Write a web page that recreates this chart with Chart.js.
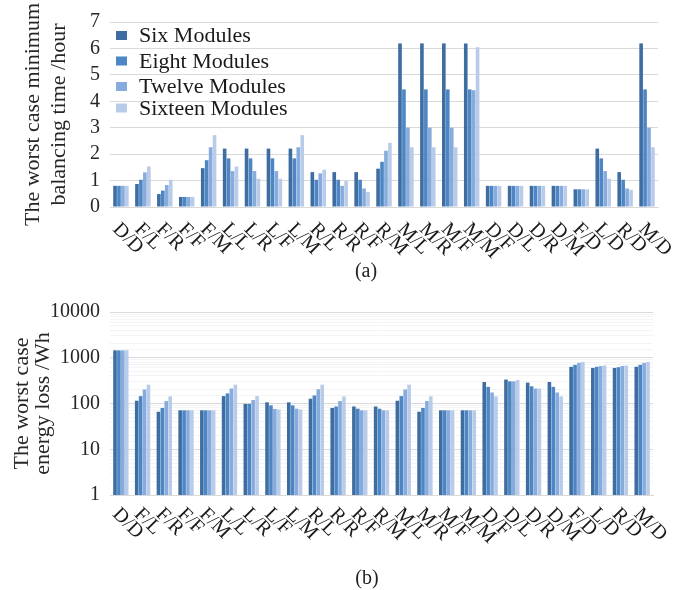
<!DOCTYPE html>
<html>
<head>
<meta charset="utf-8">
<script src="https://cdn.jsdelivr.net/npm/chart.js@4.4.1/dist/chart.umd.min.js"></script>
<style>
  body { margin: 0; background: #fff; }
  #page { position: relative; width: 683px; height: 590px; overflow: hidden; }
  .box { position: absolute; left: 0; width: 683px; }
  .cap { position: absolute; font-family: "Liberation Serif", serif; font-size: 20px; color: #222; transform: translate(-50%, -50%); }
</style>
</head>
<body>
<div id="page">
  <div class="box" style="top:0;height:290px"><canvas id="timeChart"></canvas></div>
  <div class="box" style="top:290px;height:300px"><canvas id="lossChart"></canvas></div>
  <div class="cap" style="left:366px;top:270px">(a)</div>
  <div class="cap" style="left:367px;top:577px">(b)</div>
</div>
<script>
const labels = ["D/D", "F/L", "F/R", "F/F", "F/M", "L/L", "L/R", "L/F", "L/M", "R/L", "R/R", "R/F", "R/M",
    "M/L", "M/R", "M/F", "M/M", "D/F", "D/L", "D/R", "D/M", "F/D", "L/D", "R/D", "M/D"];
const seriesNames = ["Six Modules", "Eight Modules", "Twelve Modules", "Sixteen Modules"];
const colors = ["#3d6da1", "#4c86c4", "#86abdc", "#b8cbe9"];

// (a) worst case minimum balancing time, hours
const timeSix = [0.8, 0.87, 0.49, 0.38, 1.47, 2.21, 2.21, 2.21, 2.21, 1.32, 1.32, 1.32, 1.45, 6.19, 6.19, 6.19, 6.19, 0.8, 0.8, 0.8, 0.8, 0.67, 2.21, 1.32, 6.19];
const timeEight = [0.8, 1.03, 0.62, 0.38, 1.77, 1.84, 1.84, 1.84, 1.84, 1.03, 1.03, 1.03, 1.71, 4.45, 4.45, 4.45, 4.45, 0.8, 0.8, 0.8, 0.8, 0.67, 1.84, 1.03, 4.45];
const timeTwelve = [0.8, 1.31, 0.83, 0.38, 2.26, 1.36, 1.36, 1.36, 2.26, 1.27, 0.8, 0.7, 2.13, 3.0, 3.0, 3.0, 4.42, 0.8, 0.8, 0.8, 0.8, 0.67, 1.36, 0.7, 3.0];
const timeSixteen = [0.8, 1.53, 1.03, 0.38, 2.72, 1.53, 1.07, 1.07, 2.72, 1.41, 0.98, 0.57, 2.43, 2.26, 2.26, 2.26, 6.04, 0.8, 0.8, 0.8, 0.8, 0.67, 1.07, 0.65, 2.26];

// (b) worst case energy loss, Wh
const lossSix = [1450, 115, 66, 71, 71, 145, 98, 106, 106, 127, 80, 86, 86, 115, 66, 71, 71, 295, 333, 286, 295, 633, 600, 600, 633];
const lossEight = [1450, 145, 80, 71, 71, 166, 98, 91, 91, 150, 86, 77, 77, 145, 80, 71, 71, 231, 305, 238, 231, 698, 633, 622, 698];
const lossTwelve = [1450, 202, 113, 71, 71, 213, 119, 76, 77, 205, 113, 71, 71, 202, 113, 71, 71, 174, 305, 212, 174, 771, 664, 664, 771];
const lossSixteen = [1450, 258, 143, 71, 71, 258, 145, 74, 74, 258, 143, 71, 71, 258, 143, 71, 71, 143, 326, 212, 143, 810, 675, 675, 810];

const serif = "'Liberation Serif', 'Times New Roman', serif";
const gridGrey = "#d9d9d9";

function makeDatasets(values) {
    return values.map((data, i) => ({
        label: seriesNames[i],
        data: data,
        backgroundColor: colors[i],
        categoryPercentage: 0.72,
        barPercentage: 0.92
    }));
}

// slanted category labels, turned clockwise like the original
function slantLabels(dropBelow) {
    return {
        id: "slantLabels",
        afterDraw(chart) {
            const ctx = chart.ctx;
            const xs = chart.scales.x;
            ctx.save();
            ctx.font = "20px " + serif;
            ctx.fillStyle = "#1a1a1a";
            ctx.textAlign = "left";
            ctx.textBaseline = "alphabetic";
            chart.data.labels.forEach((lab, i) => {
                const x = xs.getPixelForTick(i) - 9;
                const y = chart.chartArea.bottom + dropBelow;
                ctx.save();
                ctx.translate(x, y);
                ctx.rotate(Math.PI / 4);
                ctx.fillText(lab, 0, 0);
                ctx.restore();
            });
            ctx.restore();
        }
    };
}

// legend sitting inside the plot, top left
const innerLegend = {
    id: "innerLegend",
    afterDatasetsDraw(chart) {
        const ctx = chart.ctx;
        const left = chart.chartArea.left;
        const rows = [35.5, 61, 86.5, 108];
        ctx.save();
        ctx.font = "22px " + serif;
        ctx.textBaseline = "middle";
        ctx.textAlign = "left";
        chart.data.datasets.forEach((ds, i) => {
            ctx.fillStyle = ds.backgroundColor;
            ctx.fillRect(left + 6, rows[i] - 4.5, 11, 9);
            ctx.fillStyle = "#1a1a1a";
            ctx.fillText(ds.label, left + 29, rows[i] + 1);
        });
        ctx.restore();
    }
};

new Chart(document.getElementById("timeChart"), {
    type: "bar",
    data: {
        labels: labels,
        datasets: makeDatasets([timeSix, timeEight, timeTwelve, timeSixteen])
    },
    options: {
        responsive: true,
        maintainAspectRatio: false,
        animation: false,
        layout: { padding: { top: 22, right: 25, bottom: 0, left: 0 } },
        plugins: { legend: { display: false }, tooltip: { enabled: false } },
        scales: {
            x: {
                grid: { display: false },
                border: { color: gridGrey },
                ticks: { display: false },
                afterFit(scale) { scale.height = 83; }
            },
            y: {
                min: 0,
                max: 7,
                ticks: { stepSize: 1, autoSkip: false, padding: 10, color: "#262626", font: { family: serif, size: 20 } },
                grid: { color: gridGrey, drawTicks: false },
                border: { display: false },
                title: {
                    display: true,
                    text: ["The worst case minimum", "balancing time /hour"],
                    color: "#262626",
                    font: { family: serif, size: 22, lineHeight: 1.2 },
                    padding: { top: 20, bottom: 0 }
                },
                afterFit(scale) { scale.width = 110; }
            }
        }
    },
    plugins: [slantLabels(23), innerLegend]
});

new Chart(document.getElementById("lossChart"), {
    type: "bar",
    data: {
        labels: labels,
        datasets: makeDatasets([lossSix, lossEight, lossTwelve, lossSixteen])
    },
    options: {
        responsive: true,
        maintainAspectRatio: false,
        animation: false,
        layout: { padding: { top: 19, right: 30, bottom: 0, left: 0 } },
        plugins: { legend: { display: false }, tooltip: { enabled: false } },
        scales: {
            x: {
                grid: { display: false },
                border: { color: gridGrey },
                ticks: { display: false },
                afterFit(scale) { scale.height = 95; }
            },
            y: {
                type: "logarithmic",
                min: 1,
                max: 10000,
                ticks: {
                    autoSkip: false,
                    padding: 10,
                    color: "#262626",
                    font: { family: serif, size: 20 },
                    callback(value) {
                        const p = Math.log10(value);
                        return Math.abs(p - Math.round(p)) < 1e-9 ? String(value) : "";
                    }
                },
                grid: {
                    drawTicks: false,
                    color(c) {
                        if (!c.tick) return gridGrey;
                        const p = Math.log10(c.tick.value);
                        return Math.abs(p - Math.round(p)) < 1e-9 ? gridGrey : "#f4f4f4";
                    }
                },
                border: { display: false },
                title: {
                    display: true,
                    text: ["The worst case", "energy loss /Wh"],
                    color: "#262626",
                    font: { family: serif, size: 22, lineHeight: 0.96 },
                    padding: { top: 12, bottom: 0 }
                },
                afterFit(scale) { scale.width = 110; }
            }
        }
    },
    plugins: [slantLabels(20)]
});
</script>
</body>
</html>
